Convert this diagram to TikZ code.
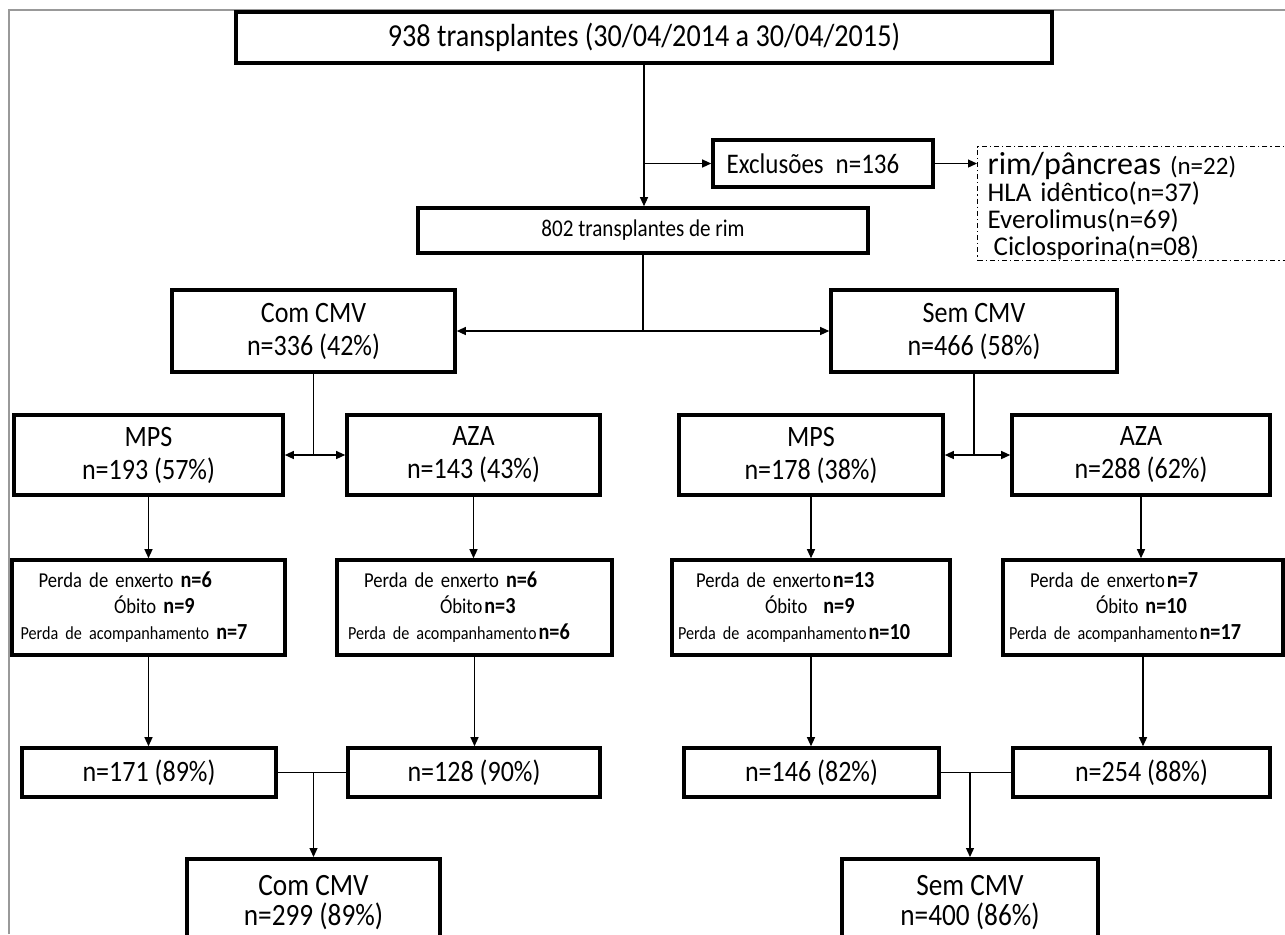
\documentclass[tikz,border=0pt]{standalone}
\usepackage{fontspec}
\setmainfont{Carlito}[FakeStretch=0.88]
\newfontfamily\larga{Carlito}
\usetikzlibrary{arrows.meta}
\newcommand{\tam}[2]{\fontsize{#1}{#2}\selectfont}
\newcommand{\nn}[1]{{\bfseries\tam{11.5}{13}#1}}
\newcommand{\pac}{{\tam{9.2}{13}Perda de acompanhamento}}
\begin{document}
\begin{tikzpicture}[x=0.5pt,y=-0.5pt,
    caixa/.style={draw,line width=1.8pt,align=center,inner sep=0pt,font=\tam{14.8}{16.5}},
    perda/.style={draw,line width=1.8pt,align=left,inner xsep=3pt,inner ysep=0pt,
        text width=#1,minimum height=47.5pt,font=\tam{10.6}{13}},
    seta/.style={line width=0.6pt,-{Triangle[length=4.5pt,width=4pt]}},
    linha/.style={line width=0.6pt}]
    \useasboundingbox (0,0) rectangle (1285,934);
    \draw[black!40,line width=0.8pt] (9,934) -- (9,10) -- (1285,10);

    \node[caixa,minimum width=408pt,minimum height=25.5pt,font=\tam{16}{18}] (total) at (644,37.5)
        {938 transplantes (30/04/2014 a 30/04/2015)};
    \node[caixa,minimum width=110pt,minimum height=23.5pt,font=\tam{14.2}{16}] (excl) at (823,163.5)
        {Exclusões\hspace{6pt}n=136\hspace*{10pt}};
    \node[draw,line width=0.6pt,dash pattern=on 2.5pt off 1.5pt on 0.6pt off 1.5pt,
        anchor=west,text width=150pt,inner xsep=5pt,inner ysep=0pt,
        align=left,font={\larga\tam{13.5}{13.5}\lineskiplimit=-20pt}] (lista) at (977,203.5)
        {\rule{0pt}{14pt}{\tam{16}{13.5}rim/pâncreas} {\tam{12.5}{13.5}(n=22)}\\HLA idêntico(n=37)\\Everolimus(n=69)\\\hspace*{3pt}Ciclosporina(n=08)};
    \node[caixa,minimum width=225pt,minimum height=22.5pt,font=\tam{12}{14}] (rim) at (643,230.5)
        {802 transplantes de rim};

    \node[caixa,minimum width=141.5pt,minimum height=41pt] (com) at (313.5,331) {Com CMV\\n=336 (42\%)};
    \node[caixa,minimum width=143pt,minimum height=41pt] (sem) at (974,331) {Sem CMV\\n=466 (58\%)};

    \node[caixa,minimum width=134.5pt,minimum height=40pt] (mps1) at (148.5,455) {MPS\\n=193 (57\%)};
    \node[caixa,minimum width=126.5pt,minimum height=40pt] (aza1) at (473.5,455) {AZA\\n=143 (43\%)};
    \node[caixa,minimum width=132pt,minimum height=40pt] (mps2) at (811,455) {MPS\\n=178 (38\%)};
    \node[caixa,minimum width=129pt,minimum height=40pt] (aza2) at (1141,455) {AZA\\n=288 (62\%)};

    \node[perda=130.5pt] (perda1) at (148.5,607.5)
        {\hspace*{10.3pt}Perda de enxerto \nn{n=6}\\\hspace*{48pt}Óbito \nn{n=9}\\\hspace*{1.3pt}\pac{} \nn{n=7}};
    \node[perda=131.5pt] (perda2) at (474.5,607.5)
        {\hspace*{10.5pt}Perda de enxerto \nn{n=6}\\\hspace*{48.5pt}Óbito\hspace{1pt}\nn{n=3}\\\hspace*{2.5pt}\pac\hspace{1pt}\nn{n=6}};
    \node[perda=133pt] (perda3) at (811,607.5)
        {\hspace*{9pt}Perda de enxerto\hspace{1pt}\nn{n=13}\\\hspace*{43.5pt}Óbito\hspace{8pt}\nn{n=9}\\\pac\hspace{1pt}\nn{n=10}};
    \node[perda=134pt] (perda4) at (1143,607.5)
        {\hspace*{10.5pt}Perda de enxerto\hspace{1pt}\nn{n=7}\\\hspace*{43.5pt}Óbito \nn{n=10}\\\pac\hspace{1pt}\nn{n=17}};

    \node[caixa,minimum width=127pt,minimum height=24.5pt] (res1) at (149,772.5) {n=171 (89\%)};
    \node[caixa,minimum width=126pt,minimum height=24.5pt] (res2) at (474,772.5) {n=128 (90\%)};
    \node[caixa,minimum width=127.5pt,minimum height=24.5pt] (res3) at (811.5,772.5) {n=146 (82\%)};
    \node[caixa,minimum width=128.5pt,minimum height=24.5pt] (res4) at (1141.5,772.5) {n=254 (88\%)};

    \node[caixa,anchor=north,minimum width=126.5pt,minimum height=44pt,font=\tam{15.5}{15}] (fim1) at (313.5,857) {Com CMV\\n=299 (89\%)};
    \node[caixa,anchor=north,minimum width=128pt,minimum height=44pt,font=\tam{15.5}{15}] (fim2) at (970,857) {Sem CMV\\n=400 (86\%)};

    \coordinate (cx) at (total.south |- excl.west);
    \draw[seta] (total.south) -- (total.south |- rim.north);
    \draw[seta] (cx) -- (excl.west);
    \draw[seta] (excl.east) -- (excl.east -| lista.west);

    \coordinate (c1) at (rim.south |- com.east);
    \draw[linha] (rim.south) -- (c1);
    \draw[seta] (c1) -- (com.east);
    \draw[seta] (c1) -- (sem.west);

    \coordinate (c2) at (com.south |- mps1.east);
    \draw[linha] (com.south) -- (c2);
    \draw[seta] (c2) -- (mps1.east);
    \draw[seta] (c2) -- (aza1.west);
    \coordinate (c3) at (sem.south |- mps2.east);
    \draw[linha] (sem.south) -- (c3);
    \draw[seta] (c3) -- (mps2.east);
    \draw[seta] (c3) -- (aza2.west);

    \foreach \a/\b/\c in {mps1/perda1/res1,aza1/perda2/res2,mps2/perda3/res3,aza2/perda4/res4}{
        \draw[seta] (\a.south) -- (\a.south |- \b.north);
        \draw[seta] (\b.south) -- (\b.south |- \c.north);
    }

    \draw[linha] (res1.east) -- (res2.west);
    \draw[seta] (res1.east -| fim1.north) -- (fim1.north);
    \draw[linha] (res3.east) -- (res4.west);
    \draw[seta] (res3.east -| fim2.north) -- (fim2.north);
\end{tikzpicture}
\end{document}
